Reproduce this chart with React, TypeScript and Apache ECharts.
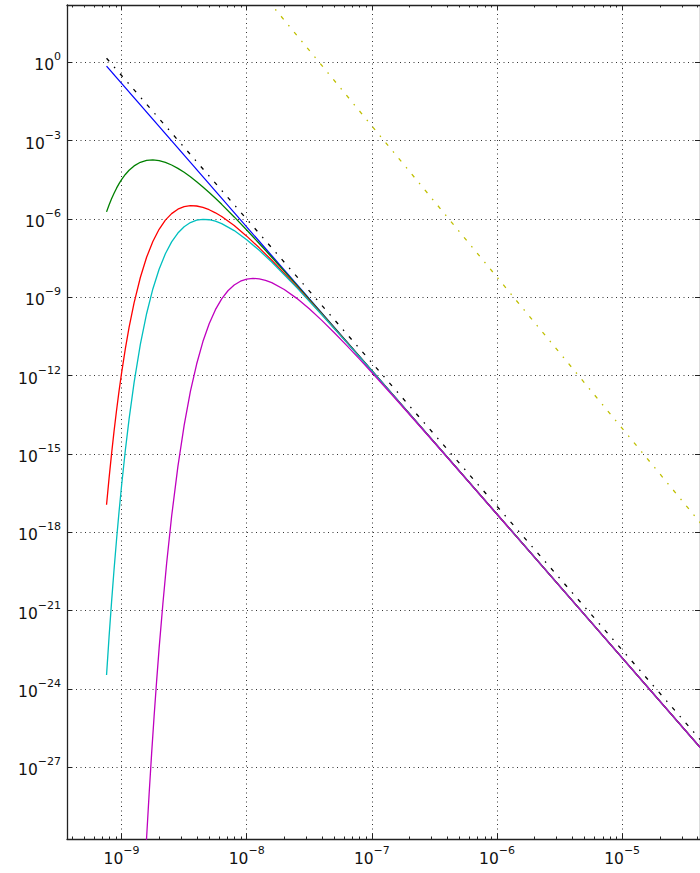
import React, { useEffect, useRef } from "react";
import * as echarts from "echarts";

// Axis extents (log10 of the plotted quantities)
const X_MIN_LOG = -9.436;
const X_MAX_LOG = -4.378;
const Y_MIN_LOG = -29.75;
const Y_MAX_LOG = 2.19;

// Tick labels (decade exponents)
const X_MAJOR_EXP = [-9, -8, -7, -6, -5];
const Y_MAJOR_EXP = [-27, -24, -21, -18, -15, -12, -9, -6, -3, 0];
const MINOR_MULTIPLIERS = [2, 3, 4, 5, 6, 7, 8, 9];

// Shared x positions (log10 x) for the green, red and cyan curves
const curveLogX = [
  -9.12, -9.1, -9.08, -9.06, -9.04, -9.02, -9.0, -8.97, -8.94, -8.9, -8.85, -8.8, -8.75, -8.7,
  -8.65, -8.6, -8.55, -8.5, -8.45, -8.4, -8.35, -8.3, -8.25, -8.2, -8.1, -8.0, -7.9, -7.8, -7.6,
  -7.4, -7.2, -7.0, -6.8, -6.5, -6.0, -5.0, -4.37,
];
const greenLogY = [
  -5.733, -5.469, -5.233, -5.018, -4.825, -4.652, -4.499, -4.301, -4.139, -3.972, -3.833, -3.759,
  -3.741, -3.769, -3.837, -3.937, -4.065, -4.217, -4.388, -4.575, -4.777, -4.99, -5.213, -5.444,
  -5.926, -6.428, -6.944, -7.469, -8.54, -9.626, -10.718, -11.815, -12.913, -14.563, -17.312,
  -22.811, -26.276,
];
const redLogY = [
  -16.95, -15.94, -15.0, -14.13, -13.33, -12.59, -11.91, -10.98, -10.16, -9.218, -8.247, -7.473,
  -6.866, -6.399, -6.049, -5.799, -5.631, -5.534, -5.496, -5.508, -5.562, -5.65, -5.768, -5.911,
  -6.257, -6.662, -7.11, -7.587, -8.599, -9.655, -10.733, -11.822, -12.917, -14.563, -17.311,
  -22.811, -26.276,
];
const cyanLogY = [
  -23.47, -22.02, -20.68, -19.43, -18.28, -17.21, -16.22, -14.87, -13.67, -12.27, -10.81, -9.634,
  -8.684, -7.929, -7.337, -6.882, -6.544, -6.301, -6.141, -6.051, -6.018, -6.034, -6.091, -6.183,
  -6.449, -6.798, -7.206, -7.655, -8.633, -9.672, -10.742, -11.826, -12.919, -14.564, -17.312,
  -22.811, -26.276,
];

// Magenta curve
const magentaLogX = [
  -8.85, -8.82, -8.8, -8.78, -8.76, -8.74, -8.72, -8.7, -8.67, -8.64, -8.6, -8.55, -8.5, -8.45,
  -8.4, -8.35, -8.3, -8.25, -8.2, -8.15, -8.1, -8.05, -8.0, -7.95, -7.9, -7.85, -7.8, -7.7, -7.6,
  -7.5, -7.4, -7.3, -7.2, -7.1, -7.0, -6.8, -6.5, -6.0, -5.0, -4.37,
];
const magentaLogY = [
  -34.4, -31.49, -29.7, -28.04, -26.49, -25.05, -23.71, -22.45, -20.75, -19.2, -17.39, -15.49,
  -13.91, -12.61, -11.56, -10.7, -10.02, -9.479, -9.064, -8.754, -8.535, -8.387, -8.307, -8.278,
  -8.296, -8.353, -8.444, -8.704, -9.045, -9.445, -9.888, -10.36, -10.854, -11.364, -11.885,
  -12.949, -14.575, -17.314, -22.811, -26.276,
];

// Straight lines (log-log)
const blueLogX = [-9.12, -4.37];
const blueLogY = [-0.151, -26.276];
const blackLogX = [-9.12, -4.37];
const blackLogY = [0.15, -25.976];
const yellowLogX = [-7.83, -4.37];
const yellowLogY = [2.364, -17.67];

const FONT = "DejaVu Sans";

function pairs(xs: number[], ys: number[]) {
  return xs.map((x, i) => [x, ys[i]]);
}

function minorTicks(lo: number, hi: number) {
  const out: number[] = [];
  for (let d = Math.floor(lo) - 1; d <= Math.ceil(hi); d++) {
    for (const m of MINOR_MULTIPLIERS) {
      const v = d + Math.log10(m);
      if (v > lo && v < hi) out.push(v);
    }
  }
  return out;
}

const richLabel = {
  b: { fontSize: 15.5, fontFamily: FONT, color: "#111", lineHeight: 22, verticalAlign: "bottom" },
  s: { fontSize: 11, fontFamily: FONT, color: "#111", lineHeight: 12, verticalAlign: "top" },
};
const fmt = (v: number) => {
  const e = Math.round(v);
  const txt = e < 0 ? "\u2212" + Math.abs(e) : String(e);
  return `{b|10}{s|${txt}}`;
};

export default function App() {
  const ref = useRef<HTMLDivElement>(null);
  useEffect(() => {
    if (!ref.current) return;
    const chart = echarts.init(ref.current, undefined, { renderer: "svg" });
    const xMinor = minorTicks(X_MIN_LOG, X_MAX_LOG);
    const frameLine = { show: true, onZero: false, lineStyle: { color: "#222", width: 1.3 } };
    const noLine = { show: false, onZero: false };
    const tickStyle = { color: "#222", width: 1 };
    const grid = { color: "#000", width: 0.8, type: [1, 3.5] as number[] };

    const xBase = { type: "value", min: X_MIN_LOG, max: X_MAX_LOG };
    const yBase = { type: "value", min: Y_MIN_LOG, max: Y_MAX_LOG };

    const line = (name: string, data: number[][], color: string, extra: any = {}) => ({
      name,
      type: "line",
      data,
      showSymbol: false,
      symbol: "none",
      smooth: false,
      xAxisIndex: 0,
      yAxisIndex: 0,
      lineStyle: { color, width: 1.3, ...extra },
      emphasis: { disabled: true },
    });

    chart.setOption({
      animation: false,
      backgroundColor: "#fff",
      grid: { left: 67, top: 5, width: 633, height: 834, show: false },
      xAxis: [
        {
          ...xBase,
          position: "bottom",
          axisLine: frameLine,
          axisTick: { show: true, inside: true, length: 5, customValues: X_MAJOR_EXP, lineStyle: tickStyle },
          axisLabel: { show: true, customValues: X_MAJOR_EXP, formatter: fmt, rich: richLabel, margin: 6 },
          splitLine: { show: true, lineStyle: grid },
        },
        {
          ...xBase,
          position: "bottom",
          axisLine: noLine,
          axisTick: { show: true, inside: true, length: 2.5, customValues: xMinor, lineStyle: tickStyle },
          axisLabel: { show: false },
          splitLine: { show: false },
        },
        {
          ...xBase,
          position: "top",
          axisLine: frameLine,
          axisTick: { show: true, inside: true, length: 5, customValues: X_MAJOR_EXP, lineStyle: tickStyle },
          axisLabel: { show: false },
          splitLine: { show: false },
        },
        {
          ...xBase,
          position: "top",
          axisLine: noLine,
          axisTick: { show: true, inside: true, length: 2.5, customValues: xMinor, lineStyle: tickStyle },
          axisLabel: { show: false },
          splitLine: { show: false },
        },
      ],
      yAxis: [
        {
          ...yBase,
          position: "left",
          axisLine: frameLine,
          axisTick: { show: true, inside: true, length: 5, customValues: Y_MAJOR_EXP, lineStyle: tickStyle },
          axisLabel: { show: true, customValues: Y_MAJOR_EXP, formatter: fmt, rich: richLabel, margin: 6 },
          splitLine: { show: true, lineStyle: grid },
        },
        {
          ...yBase,
          position: "right",
          axisLine: frameLine,
          axisTick: { show: true, inside: true, length: 5, customValues: Y_MAJOR_EXP, lineStyle: tickStyle },
          axisLabel: { show: false },
          splitLine: { show: false },
        },
      ],
      series: [
        line("blue", pairs(blueLogX, blueLogY), "#0000ff"),
        line("green", pairs(curveLogX, greenLogY), "#008000"),
        line("red", pairs(curveLogX, redLogY), "#ff0000"),
        line("cyan", pairs(curveLogX, cyanLogY), "#00bfbf"),
        line("magenta", pairs(magentaLogX, magentaLogY), "#bf00bf"),
        line("black", pairs(blackLogX, blackLogY), "#000000", { type: [4, 7.5, 1.5, 7.5] }),
        line("yellow", pairs(yellowLogX, yellowLogY), "#bfbf00", { type: [4, 7.5, 1.5, 7.5] }),
      ],
    });
    return () => chart.dispose();
  }, []);
  return <div ref={ref} style={{ position: "absolute", left: 0, top: 0, width: 700, height: 873 }} />;
}
